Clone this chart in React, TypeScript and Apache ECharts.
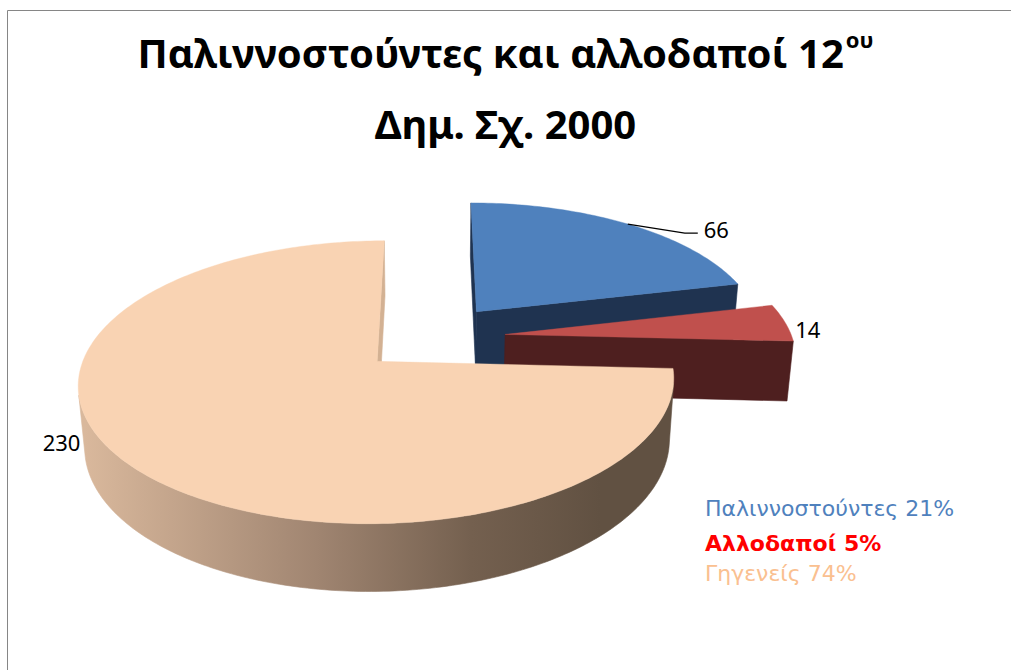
import React, { useEffect, useRef } from 'react';
import * as echarts from 'echarts';

// ---- data ----
const categories = ['Παλιννοστούντες', 'Αλλοδαποί', 'Γηγενείς'];
const values = [66, 14, 230];
const titleLine1 = 'Παλιννοστούντες και αλλοδαποί 12';
const titleSup = 'ου';
const titleLine2 = 'Δημ. Σχ. 2000';

// ---- styles ----
const topColors = ['#4F81BD', '#C0504D', '#F9D3B3'];
const faceColors = ['#1F3350', '#4E1F1F', '#D3B193'];
const legendColors = ['#4F81BD', '#FF0000', '#FAC090'];
const legendWeights = ['normal', 'bold', 'normal'];
// label placement relative to the slice's mid-angle rim point
const labelStyle = [
  { dx: 76, dy: 5, align: 'left', leader: [[57, 9], [70, 9]] },
  { dx: 10, dy: 6, align: 'left', leader: null },
  { dx: -53, dy: -25, align: 'right', leader: null },
];

// ---- 3D view (perspective) ----
const VIEW = { cx: 432, cy: 337.5, f: 1771, r: 0.162, h: 0.0386, explode: 0.0416, sinT: 0.458 };
const cosT = Math.sqrt(1 - VIEW.sinT * VIEW.sinT);

const total = values.reduce((a, b) => a + b, 0);
const starts: number[] = [];
{
  let acc = 0;
  values.forEach((v) => {
    starts.push(acc);
    acc += v;
  });
}

function proj(X: number, Y: number, Z: number): number[] {
  const depth = 1 - Y * VIEW.sinT - Z * cosT;
  const up = Y * cosT - Z * VIEW.sinT;
  return [VIEW.cx + (VIEW.f * X) / depth, VIEW.cy - (VIEW.f * up) / depth];
}

function renderItem(params: any, api: any) {
  const i = params.dataIndex;
  const v = api.value(0);
  const TAU = Math.PI * 2;
  const a0 = (starts[i] / total) * TAU;
  const a1 = a0 + (v / total) * TAU;
  const m = (a0 + a1) / 2;
  const R = VIEW.r;
  const H = VIEW.h;
  const ox = VIEW.explode * Math.sin(m);
  const oz = -VIEW.explode * Math.cos(m);
  const rim = (a: number) => [ox + R * Math.sin(a), oz - R * Math.cos(a)];
  const n = Math.max(10, Math.ceil(((a1 - a0) / TAU) * 360));
  const angles: number[] = [];
  for (let k = 0; k <= n; k++) angles.push(a0 + ((a1 - a0) * k) / n);

  const children: any[] = [];

  const wallFill =
    i === 2
      ? new echarts.graphic.LinearGradient(
          85, 0, 600, 0,
          [
            { offset: 0, color: '#D9B89C' },
            { offset: 0.45, color: '#A08571' },
            { offset: 0.75, color: '#74604F' },
            { offset: 1, color: '#615142' },
          ],
          true
        )
      : faceColors[i];

  // outer curved wall (visible runs)
  let run: number[] = [];
  const flush = () => {
    if (run.length > 1) {
      const topPts = run.map((a) => {
        const [X, Z] = rim(a);
        return proj(X, 0, Z);
      });
      const botPts = run
        .map((a) => {
          const [X, Z] = rim(a);
          return proj(X, -H, Z);
        })
        .reverse();
      children.push({
        type: 'polygon',
        shape: { points: topPts.concat(botPts) },
        style: { fill: wallFill, stroke: wallFill, lineWidth: 0.6 },
      });
    }
    run = [];
  };
  angles.forEach((a) => {
    const [X, Z] = rim(a);
    const vis = -X * Math.sin(a) - (cosT - Z) * Math.cos(a) > 0;
    if (vis) run.push(a);
    else flush();
  });
  flush();

  // radial faces
  const face = (a: number) => {
    const [X, Z] = rim(a);
    return [proj(ox, 0, oz), proj(X, 0, Z), proj(X, -H, Z), proj(ox, -H, oz)];
  };
  const startVis = ox * Math.cos(a0) - (cosT - oz) * Math.sin(a0) > 0;
  const endVis = -ox * Math.cos(a1) + (cosT - oz) * Math.sin(a1) > 0;
  if (startVis)
    children.push({ type: 'polygon', shape: { points: face(a0) }, style: { fill: faceColors[i], stroke: faceColors[i], lineWidth: 0.6 } });
  if (endVis)
    children.push({ type: 'polygon', shape: { points: face(a1) }, style: { fill: faceColors[i], stroke: faceColors[i], lineWidth: 0.6 } });

  // top face
  const topPts = [proj(ox, 0, oz)].concat(
    angles.map((a) => {
      const [X, Z] = rim(a);
      return proj(X, 0, Z);
    })
  );
  children.push({ type: 'polygon', shape: { points: topPts }, style: { fill: topColors[i], stroke: topColors[i], lineWidth: 0.4 } });

  // data label
  const [mx, mz] = rim(m);
  const anchor = proj(mx, 0, mz);
  const ls = labelStyle[i];
  if (ls.leader) {
    children.push({
      type: 'polyline',
      shape: { points: [anchor].concat(ls.leader.map((p) => [anchor[0] + p[0], anchor[1] + p[1]])) },
      style: { stroke: '#000', lineWidth: 1.3, fill: 'none' },
    });
  }
  children.push({
    type: 'text',
    x: anchor[0] + ls.dx,
    y: anchor[1] + ls.dy,
    style: {
      text: String(v),
      fill: '#000',
      fontSize: 22,
      fontFamily: 'Noto Sans',
      align: ls.align,
      verticalAlign: 'middle',
    },
  });

  return { type: 'group', children };
}

export default function App() {
  const ref = useRef<HTMLDivElement>(null);
  useEffect(() => {
    if (!ref.current) return;
    const chart = echarts.init(ref.current, undefined, { renderer: 'svg' });
    const legendY = [508, 543, 573];
    chart.setOption({
      animation: false,
      backgroundColor: '#ffffff',
      title: {
        text: `{t|${titleLine1}}{s|${titleSup}}\n{t|${titleLine2}}`,
        left: 'center',
        top: 11.5,
        textStyle: {
          rich: {
            t: { fontSize: 40, fontWeight: 'bold', fontFamily: 'Noto Sans', lineHeight: 71, color: '#000' },
            s: { fontSize: 22, fontWeight: 'bold', fontFamily: 'Noto Sans', lineHeight: 22, padding: [0, 0, 27, 2], color: '#000' },
          },
        },
      },
      graphic: [
        {
          type: 'rect',
          silent: true,
          shape: { x: 7.5, y: 10.5, width: 1100, height: 1000 },
          style: { fill: 'none', stroke: '#868686', lineWidth: 1 },
        },
        ...categories.map((c, i) => ({
          type: 'text',
          silent: true,
          x: 705,
          y: legendY[i],
          style: {
            text: `${c} ${Math.round((values[i] / total) * 100)}%`,
            fill: legendColors[i],
            fontSize: 22,
            fontWeight: legendWeights[i],
            fontFamily: 'DejaVu Sans',
            align: 'left',
            verticalAlign: 'middle',
          },
        })),
      ],
      series: [
        {
          type: 'custom',
          coordinateSystem: 'none',
          silent: true,
          renderItem,
          data: values.map((v, i) => ({ name: categories[i], value: [v] })),
        },
      ],
    });
    return () => chart.dispose();
  }, []);
  return <div ref={ref} style={{ position: 'fixed', left: 0, top: 0, width: 1011, height: 670 }} />;
}
